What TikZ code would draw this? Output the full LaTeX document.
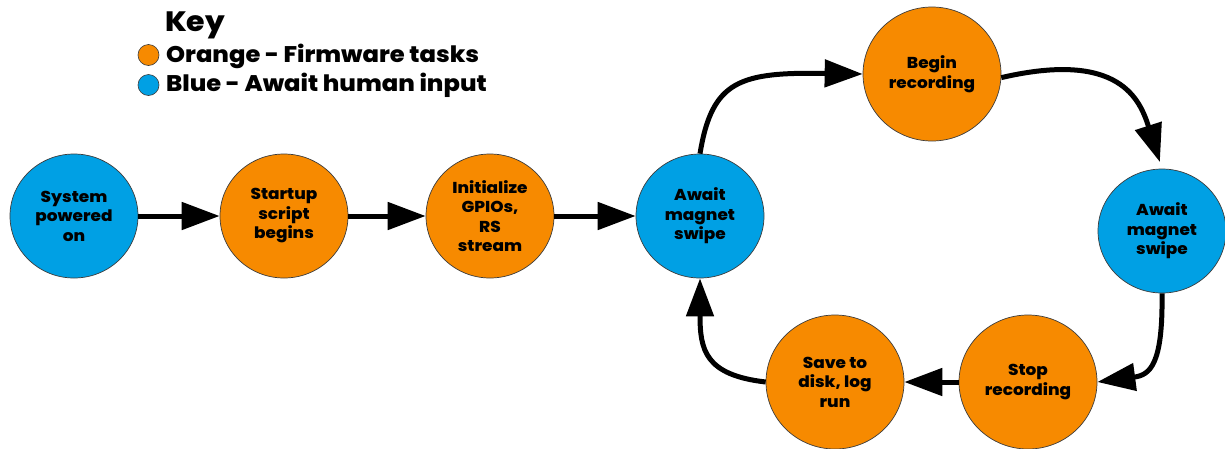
\documentclass[tikz,border=0pt]{standalone}
\usepackage{fontspec}
\setmainfont{Poppins}[BoldFont={Poppins ExtraBold}]
\newfontfamily\labelfont{Poppins ExtraBold}[FakeStretch=1.07]
\usetikzlibrary{arrows.meta,shapes.geometric}

\definecolor{taskorange}{RGB}{247,138,0}
\definecolor{waitblue}{RGB}{0,160,228}
\definecolor{rim}{RGB}{60,60,60}

\newcommand{\statefont}{\labelfont\fontsize{15.8}{19.5}\selectfont}

\begin{document}
\begin{tikzpicture}[x=1pt,y=-1pt,
  state/.style={ellipse, draw=rim, line width=0.7pt, inner sep=0pt,
    align=center, font=\statefont, minimum width=128pt, minimum height=124pt},
  wide/.style={minimum width=138pt, minimum height=134pt},
  task/.style={state, fill=taskorange},
  wait/.style={state, fill=waitblue},
  flow/.style={line width=5pt, -{Triangle[length=38pt,width=27pt]}},
  keydot/.style={circle, draw=rim, line width=0.6pt, inner sep=0pt, minimum size=21pt},
  keytext/.style={anchor=base west, inner sep=0pt, font=\labelfont\fontsize{22.6}{24}\selectfont},
]
\useasboundingbox (0,0) rectangle (1225,448);

% legend
\node[anchor=base west, inner sep=0pt, font=\labelfont\fontsize{28}{30}\selectfont] (keytitle) at (165,31) {Key};
\node[keydot, fill=taskorange] (dotorange) at (148.5,55) {};
\node[keydot, fill=waitblue] (dotblue) at (148.5,85) {};
\node[keytext] (keyorange) at (166,62) {Orange - Firmware tasks};
\node[keytext] (keyblue) at (166,91) {Blue - Await human input};

% start-up chain
\node[wait] (power) at (74,216) {System\\powered\\on};
\node[task] (startup) at (284,216) {Startup\\script\\begins};
\node[task] (init) at (490,216) {Initialize\\GPIOs,\\RS\\stream};

% recording loop
\node[wait] (swipeA) at (700,216) {Await\\magnet\\swipe};
\node[task, wide] (begin) at (932,74) {Begin\\recording};
\node[wait] (swipeB) at (1162,231) {Await\\magnet\\swipe};
\node[task, wide] (stop) at (1028,382) {Stop\\recording};
\node[task, wide] (save) at (835,382) {Save to\\disk, log\\run};

\draw[flow] (power) -- (startup);
\draw[flow] (startup) -- (init);
\draw[flow] (init) -- (swipeA);

\draw[flow] (swipeA.north) .. controls (712,80) and (740,72) .. (begin.west);
\draw[flow, shorten >=7pt] (begin.357) .. controls (1120,50) and (1140,100) .. (swipeB.north);
\draw[flow] (swipeB.south) .. controls (1163,365) and (1150,375) .. (stop.east);
\draw[flow] (stop) -- (save);
\draw[flow] (save.west) .. controls (705,375) and (700,350) .. (swipeA.south);
\end{tikzpicture}
\end{document}
